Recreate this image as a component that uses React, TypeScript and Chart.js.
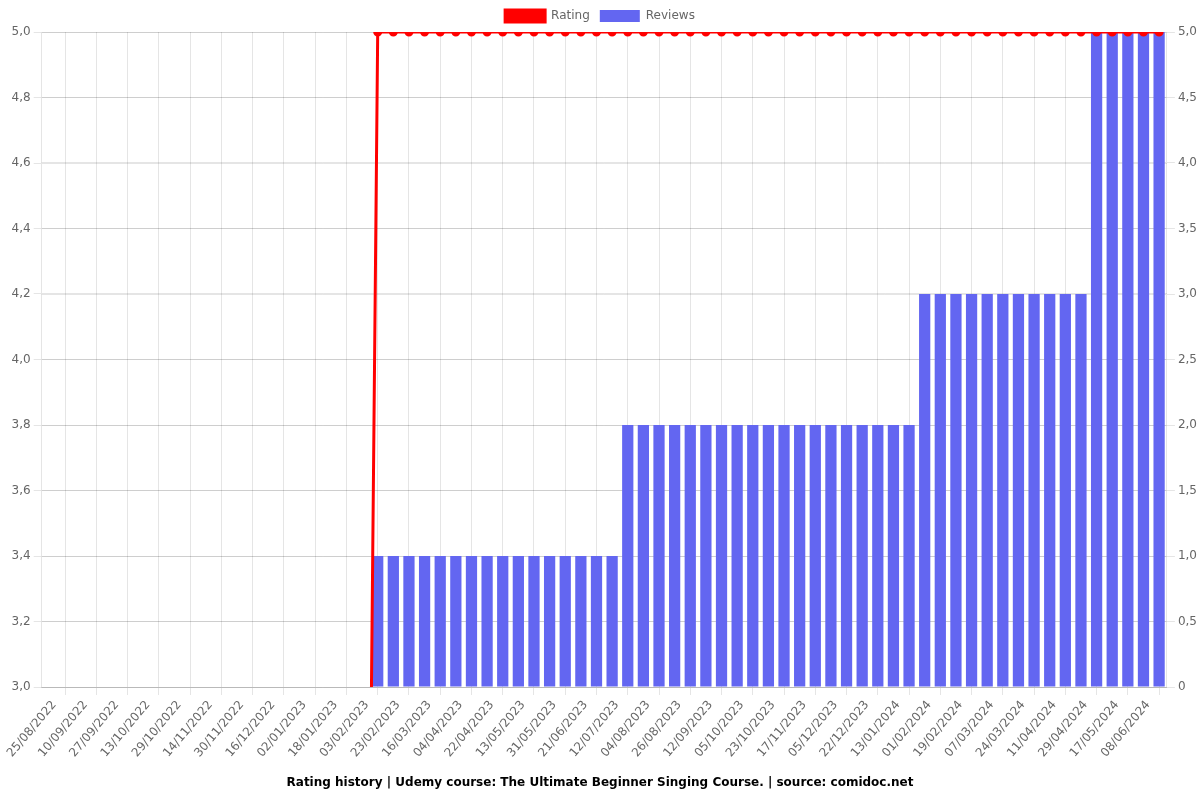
import React, { useEffect, useRef } from "react";
import { Chart, registerables } from "chart.js";

Chart.register(...registerables);

const dateLabels: string[] = [
  "17/08/2022", "25/08/2022", "02/09/2022", "10/09/2022", "18/09/2022", "27/09/2022",
  "05/10/2022", "13/10/2022", "21/10/2022", "29/10/2022", "06/11/2022", "14/11/2022",
  "22/11/2022", "30/11/2022", "08/12/2022", "16/12/2022", "24/12/2022", "02/01/2023",
  "10/01/2023", "18/01/2023", "26/01/2023", "03/02/2023", "13/02/2023", "23/02/2023",
  "05/03/2023", "16/03/2023", "25/03/2023", "04/04/2023", "13/04/2023", "22/04/2023",
  "02/05/2023", "13/05/2023", "22/05/2023", "31/05/2023", "10/06/2023", "21/06/2023",
  "01/07/2023", "12/07/2023", "24/07/2023", "04/08/2023", "15/08/2023", "26/08/2023",
  "03/09/2023", "12/09/2023", "24/09/2023", "05/10/2023", "14/10/2023", "23/10/2023",
  "04/11/2023", "17/11/2023", "26/11/2023", "05/12/2023", "13/12/2023", "22/12/2023",
  "02/01/2024", "13/01/2024", "22/01/2024", "01/02/2024", "10/02/2024", "19/02/2024",
  "28/02/2024", "07/03/2024", "15/03/2024", "24/03/2024", "02/04/2024", "11/04/2024",
  "20/04/2024", "29/04/2024", "08/05/2024", "17/05/2024", "28/05/2024", "08/06/2024",
];

const ratingValues: number[] = [
  0, 0, 0, 0, 0, 0, 0, 0, 0, 0, 0, 0, 0, 0, 0, 0, 0, 0, 0, 0, 0,
  5, 5, 5, 5, 5, 5, 5, 5, 5, 5, 5, 5, 5, 5, 5, 5,
  5, 5, 5, 5, 5, 5, 5, 5, 5, 5, 5, 5, 5, 5, 5, 5, 5, 5, 5,
  5, 5, 5, 5, 5, 5, 5, 5, 5, 5, 5,
  5, 5, 5, 5, 5,
];

const reviewValues: number[] = [
  0, 0, 0, 0, 0, 0, 0, 0, 0, 0, 0, 0, 0, 0, 0, 0, 0, 0, 0, 0, 0,
  1, 1, 1, 1, 1, 1, 1, 1, 1, 1, 1, 1, 1, 1, 1, 1,
  2, 2, 2, 2, 2, 2, 2, 2, 2, 2, 2, 2, 2, 2, 2, 2, 2, 2, 2,
  3, 3, 3, 3, 3, 3, 3, 3, 3, 3, 3,
  5, 5, 5, 5, 5,
];

const titleText =
  "Rating history | Udemy course: The Ultimate Beginner Singing Course. | source: comidoc.net";

const fmt = (v: number) => (v === 0 ? "0" : v.toFixed(1).replace(".", ","));

const FAMILY = "DejaVu Sans";

export default function App() {
  const canvasRef = useRef<HTMLCanvasElement | null>(null);

  useEffect(() => {
    document.body.style.margin = "0";
    Chart.defaults.font.family = FAMILY;
    Chart.defaults.font.size = 12;
    const ctx = canvasRef.current;
    if (!ctx) return;
    const tickFont = { family: FAMILY, size: 12 };
    const chart = new Chart(ctx, {
      type: "bar",
      data: {
        labels: dateLabels,
        datasets: [
          {
            type: "line",
            label: "Rating",
            data: ratingValues,
            borderColor: "#ff0000",
            backgroundColor: "#ff0000",
            borderWidth: 3,
            pointRadius: 3,
            pointBackgroundColor: "#ff0000",
            pointBorderColor: "#ff0000",
            tension: 0,
            clip: 0,
            yAxisID: "y",
          } as any,
          {
            type: "bar",
            label: "Reviews",
            data: reviewValues,
            backgroundColor: "#6366f1",
            borderWidth: 0,
            yAxisID: "y1",
          },
        ],
      },
      options: {
        animation: false,
        responsive: true,
        maintainAspectRatio: false,
        plugins: {
          legend: { position: "top", labels: { font: tickFont } },
          title: {
            display: true,
            position: "bottom",
            text: titleText,
            color: "#000",
            font: { family: FAMILY, size: 12, weight: "bold" },
          },
          tooltip: { enabled: false },
        },
        scales: {
          x: {
            offset: true,
            grid: { offset: false },
            afterFit: (scale: any) => {
              scale.height = 78.6;
            },
            ticks: {
              font: tickFont,
              autoSkip: false,
              minRotation: 50,
              maxRotation: 50,
              labelOffset: -11,
              callback: function (_v: any, i: number) {
                return i % 2 === 1 ? dateLabels[i] : null;
              },
            },
          },
          y: {
            position: "left",
            min: 3,
            max: 5,
            afterFit: (scale: any) => {
              scale.width = 41.7;
            },
            ticks: { font: tickFont, stepSize: 0.2, callback: (v: any) => fmt(Number(v)) },
          },
          y1: {
            position: "right",
            min: 0,
            max: 5,
            ticks: { font: tickFont, stepSize: 0.5, callback: (v: any) => fmt(Number(v)) },
          },
        },
      } as any,
    });
    return () => chart.destroy();
  }, []);

  return (
    <div style={{ width: 1200, height: 800, position: "relative" }}>
      <canvas ref={canvasRef} />
    </div>
  );
}
